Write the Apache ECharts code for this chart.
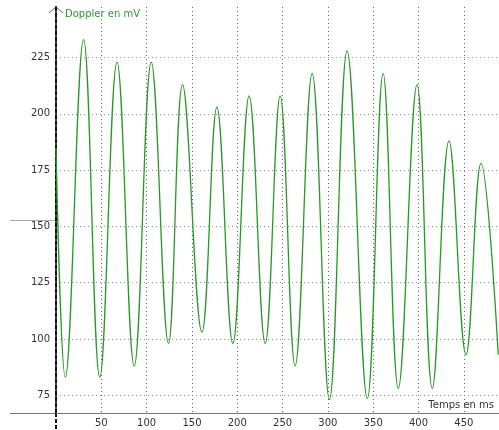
<!DOCTYPE html>
<html>
<head>
<meta charset="utf-8">
<script src="https://cdn.jsdelivr.net/npm/echarts@6/dist/echarts.min.js"></script>
<style>
html, body { margin: 0; padding: 0; background: #fff; }
#chart { width: 499px; height: 430px; }
</style>
</head>
<body>
<div id="chart"></div>
<script>
// peaks / troughs (ms, mV)
var times = [0, 10.3, 30.4, 48.3, 67.3, 86.3, 105.1, 124.1, 139.6, 161, 177.5, 195.1, 213.1, 230.8,
    247.3, 263.8, 282.6, 301.7, 321.2, 343.5, 360.9, 377.7, 398.3, 415.2, 433.6, 452.4, 468.9, 488];
var doppler = [185, 83, 233, 83, 223, 88, 223, 98, 213, 103, 203, 98, 208, 98,
    208, 88, 218, 73, 228, 73.5, 218, 78, 213, 78, 188, 93, 178, 93];
var xTicks = [50, 100, 150, 200, 250, 300, 350, 400, 450];
var yTicks = [75, 100, 125, 150, 175, 200, 225];
var refLevel = 153;

var mychart = echarts.init(document.getElementById('chart'));
var font = 'DejaVu Sans';

var points = times.map(function (t, i) {
    return [t, doppler[i]];
});

var option = {
    animation: false,
    grid: { left: 56, right: 0, top: 7, bottom: 17 },
    xAxis: {
        type: 'value',
        min: 0,
        max: 488.8,
        name: 'Temps en ms',
        nameLocation: 'end',
        nameGap: -5,
        nameTextStyle: { color: '#333', fontFamily: font, fontSize: 10, align: 'right', verticalAlign: 'bottom', padding: [0, 0, 3, 0] },
        axisLine: { show: true, onZero: false, lineStyle: { color: '#777', width: 1 } },
        axisTick: { show: false, customValues: xTicks },
        axisLabel: { customValues: xTicks, color: '#333', fontFamily: font, fontSize: 10, margin: 5 },
        splitLine: { show: true, lineStyle: { color: '#666', type: [1, 3], width: 1 } }
    },
    yAxis: {
        type: 'value',
        min: 67.1,
        max: 247.5,
        name: 'Doppler en mV',
        nameLocation: 'end',
        nameGap: -7,
        nameTextStyle: { color: '#2e9a2e', fontFamily: font, fontSize: 10, align: 'left', verticalAlign: 'middle', padding: [0, 0, 0, 9] },
        axisLine: { show: true, onZero: false, lineStyle: { color: '#111', width: 2, type: [4, 2] } },
        axisTick: { show: false, customValues: yTicks },
        axisLabel: { customValues: yTicks, color: '#333', fontFamily: font, fontSize: 10, margin: 6 },
        splitLine: { show: true, lineStyle: { color: '#999', type: [1, 3], width: 1 } }
    },
    series: [{
        type: 'line',
        data: points,
        showSymbol: false,
        smooth: 0.4,
        clip: true,
        lineStyle: { color: '#2a972a', width: 1.3 }
    }]
};
mychart.setOption(option);

// axis extensions past the origin, arrow head and the short reference tick
var origin = mychart.convertToPixel({ gridIndex: 0 }, [0, 67.1]);
var axisTop = mychart.convertToPixel({ yAxisIndex: 0 }, 247.5);
var refY = Math.round(mychart.convertToPixel({ yAxisIndex: 0 }, refLevel)) + 0.5;
mychart.setOption({
    graphic: [
        { type: 'line', shape: { x1: 10, y1: origin[1] + 0.5, x2: origin[0], y2: origin[1] + 0.5 }, style: { stroke: '#777', lineWidth: 1 } },
        { type: 'line', shape: { x1: origin[0], y1: origin[1], x2: origin[0], y2: 430 }, style: { stroke: '#111', lineWidth: 2, lineDash: [4, 2] } },
        { type: 'line', shape: { x1: 10, y1: refY, x2: origin[0] - 1, y2: refY }, style: { stroke: '#aaa', lineWidth: 1 } },
        { type: 'polyline', shape: { points: [[origin[0] - 7, axisTop + 6], [origin[0], axisTop], [origin[0] + 7, axisTop + 6]] }, style: { stroke: '#666', lineWidth: 1, fill: null } }
    ]
});
</script>
</body>
</html>
